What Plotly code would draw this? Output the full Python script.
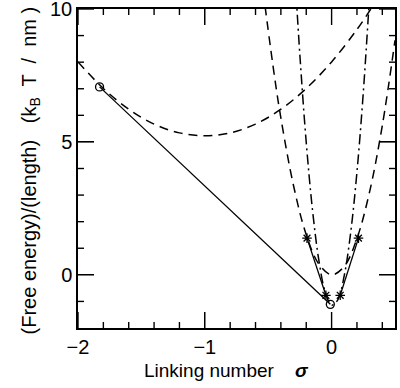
import plotly.graph_objects as go

# Wide dashed curve
wide_sigma = [-2.0, -1.8, -1.6, -1.4, -1.2, -1.0, -0.8, -0.6, -0.4, -0.2, 0.0, 0.2, 0.33]
wide_energy = [8.01, 7.01, 6.23, 5.67, 5.34, 5.23, 5.34, 5.67, 6.23, 7.01, 8.01, 9.23, 10.15]

# Narrow dashed curve
narrow_sigma = [-0.525, -0.45, -0.4, -0.3, -0.2, -0.1, 0.0, 0.1, 0.2, 0.3, 0.4, 0.5]
narrow_energy = [10.11, 7.45, 5.90, 3.35, 1.51, 0.40, 0.0, 0.32, 1.37, 3.13, 5.62, 8.82]

# Dash-dot curve
dd_sigma = [-0.28, -0.25, -0.2, -0.15, -0.1, -0.05, 0.0, 0.05, 0.1, 0.15, 0.2, 0.25, 0.3]
dd_energy = [10.54, 8.25, 4.98, 2.41, 0.53, -0.65, -1.14, -0.93, -0.02, 1.57, 3.87, 6.86, 10.54]

# Solid tangent lines
long_sigma = [-1.83, -0.01]
long_energy = [7.07, -1.11]
left_sigma = [-0.194, -0.045]
left_energy = [1.38, -0.77]
right_sigma = [0.212, 0.068]
right_energy = [1.38, -0.77]

# Markers
circle_sigma = [-1.83, -0.01]
circle_energy = [7.07, -1.11]
star_sigma = [-0.194, 0.212, -0.045, 0.068]
star_energy = [1.38, 1.38, -0.77, -0.77]

# Ticks
x_range = [-2, 0.5]
y_range = [-2, 10]
x_major = [-2, -1, 0]
x_minor = [-1.8, -1.6, -1.4, -1.2, -0.8, -0.6, -0.4, -0.2, 0.2, 0.4]
y_major = [0, 5, 10]
y_minor = [-1, 1, 2, 3, 4, 6, 7, 8, 9]

W, H = 400, 388
M = dict(l=78, r=5, t=9, b=60)
px_x = (W - M["l"] - M["r"]) / (x_range[1] - x_range[0])
px_y = (H - M["t"] - M["b"]) / (y_range[1] - y_range[0])

fig = go.Figure()
dash_line = dict(color="black", width=1.5, dash="9px,6px")
dd_line = dict(color="black", width=1.5, dash="10px,4px,2px,4px")
solid_line = dict(color="black", width=1.3)

fig.add_trace(go.Scatter(x=wide_sigma, y=wide_energy, mode="lines", line=dict(shape="spline", **dash_line)))
fig.add_trace(go.Scatter(x=narrow_sigma, y=narrow_energy, mode="lines", line=dict(shape="spline", **dash_line)))
fig.add_trace(go.Scatter(x=dd_sigma, y=dd_energy, mode="lines", line=dict(shape="spline", **dd_line)))
for xs, ys in [(long_sigma, long_energy), (left_sigma, left_energy), (right_sigma, right_energy)]:
    fig.add_trace(go.Scatter(x=xs, y=ys, mode="lines", line=solid_line))
fig.add_trace(go.Scatter(x=circle_sigma, y=circle_energy, mode="markers",
                         marker=dict(symbol="circle-open", size=8, color="black", line=dict(width=1.3))))
fig.add_trace(go.Scatter(x=star_sigma, y=star_energy, mode="markers",
                         marker=dict(symbol="asterisk-open", size=8, color="black", line=dict(width=1.3, color="black"))))

# Inside tick marks on all four sides: one short line trace per tick
for vals, length in [(x_major, 16), (x_minor, 6)]:
    d = length / px_y
    for v in vals:
        for y0, y1 in [(y_range[0], y_range[0] + d), (y_range[1], y_range[1] - d)]:
            fig.add_trace(go.Scatter(x=[v, v], y=[y0, y1], mode="lines", hoverinfo="skip",
                                     cliponaxis=False, line=dict(color="black", width=1.4)))
for vals, length in [(y_major, 16), (y_minor, 6)]:
    d = length / px_x
    for v in vals:
        for x0, x1 in [(x_range[0], x_range[0] + d), (x_range[1], x_range[1] - d)]:
            fig.add_trace(go.Scatter(x=[x0, x1], y=[v, v], mode="lines", hoverinfo="skip",
                                     cliponaxis=False, line=dict(color="black", width=1.4)))

tick_font = dict(family="Liberation Sans, Arial, sans-serif", size=20, color="black")
title_font = dict(family="Liberation Sans, Arial, sans-serif", size=19, color="black")
ytitle_font = dict(family="Liberation Sans, Arial, sans-serif", size=20, color="black")
fig.update_xaxes(range=x_range, tickmode="array", tickvals=x_major,
                 showline=True, linecolor="black", linewidth=1.5, mirror="ticks",
                 ticks="inside", ticklen=16, tickwidth=1.4, tickcolor="black",
                 showgrid=False, zeroline=False, tickfont=tick_font, ticklabeloverflow="allow")
fig.update_yaxes(range=y_range, tickmode="array", tickvals=y_major,
                 showline=True, linecolor="black", linewidth=1.5, mirror="ticks",
                 ticks="inside", ticklen=16, tickwidth=1.4, tickcolor="black",
                 showgrid=False, zeroline=False, tickfont=tick_font, ticklabeloverflow="allow")

fig.add_annotation(text="Linking number    <b><i>\u03c3</i></b>", font=title_font,
                   xref="paper", yref="paper", x=0.47, y=0, xanchor="center", yanchor="middle",
                   yshift=-42, showarrow=False)
fig.add_annotation(text="(Free energy)/(length)   (k<sub>B</sub>  T  /  nm )", font=ytitle_font,
                   xref="paper", yref="paper", x=0, y=0.494, xanchor="center", yanchor="middle",
                   xshift=-48, textangle=-90, showarrow=False)
fig.update_layout(
    width=W, height=H, showlegend=False,
    margin=dict(autoexpand=False, **M),
    plot_bgcolor="white", paper_bgcolor="white",
    font=tick_font,
)
fig.write_html("out.html", config={"displayModeBar": False},
               post_script="document.body.style.margin='0px';")
